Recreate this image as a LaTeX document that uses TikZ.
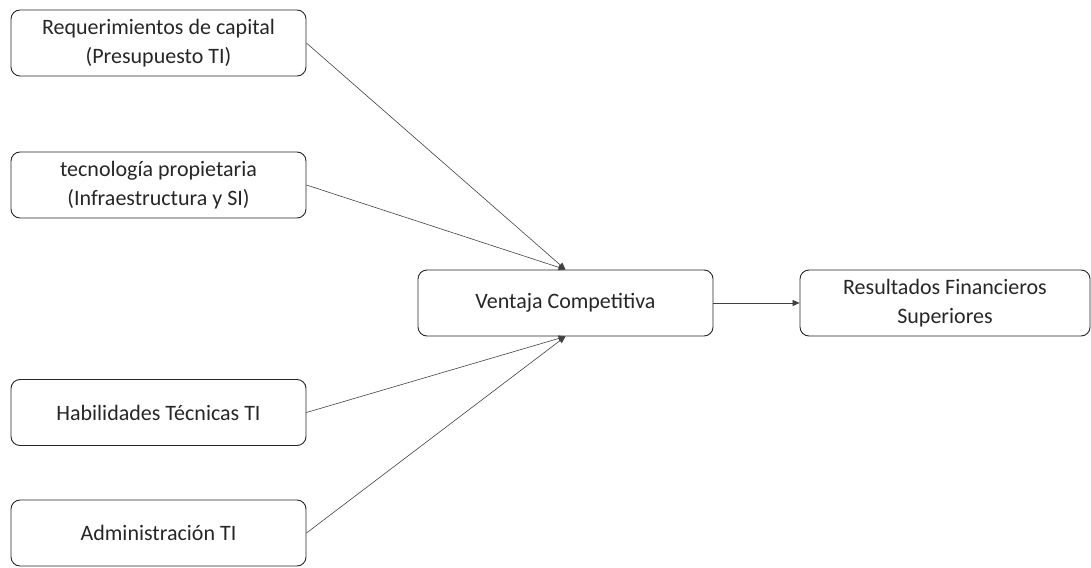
\documentclass[tikz,border=0pt]{standalone}
\usepackage{fontspec}
\setmainfont{Carlito}
\usetikzlibrary{arrows.meta}
\begin{document}
\begin{tikzpicture}[x=1pt,y=-1pt,
  box/.style={draw=black!85, line width=0.9pt, rounded corners=9pt, align=center,
    minimum width=295pt, minimum height=66pt, inner sep=0pt,
    font=\fontsize{22}{29}\selectfont, text=black!85},
  link/.style={draw=black!75, line width=0.6pt, -{Triangle[length=7pt,width=6pt]}}]
\useasboundingbox (0,0) rectangle (1091,567);
\node[box] (cap) at (158.5,43) {Requerimientos de capital\\(Presupuesto TI)};
\node[box] (tec) at (158.5,185) {tecnología propietaria\\(Infraestructura y SI)};
\node[box] (hab) at (158.5,412.5) {Habilidades Técnicas TI};
\node[box] (adm) at (158.5,533) {Administración TI};
\node[box] (ven) at (565.5,303) {Ventaja Competitiva};
\node[box, minimum width=290pt] (res) at (945,303) {Resultados Financieros\\Superiores};
\draw[link] (cap.east) -- (ven.north);
\draw[link] (tec.east) -- (ven.north);
\draw[link] (hab.east) -- (ven.south);
\draw[link] (adm.east) -- (ven.south);
\draw[link] (ven.east) -- (res.west);
\end{tikzpicture}
\end{document}
